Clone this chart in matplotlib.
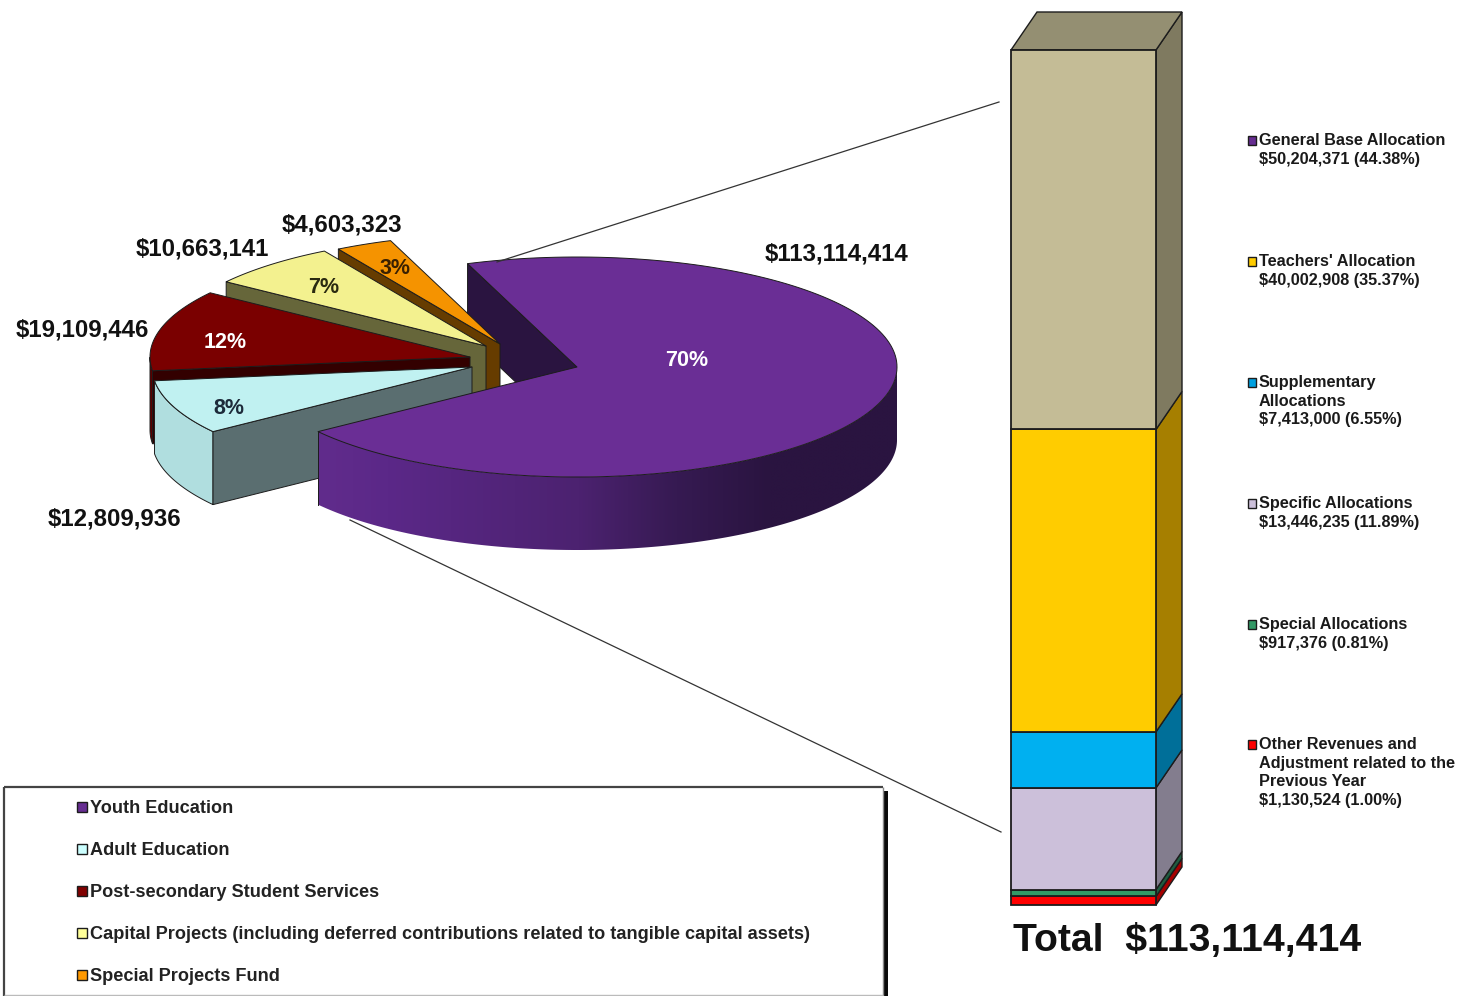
import numpy as np
import matplotlib
matplotlib.use("Agg")
import matplotlib.pyplot as plt
from matplotlib.patches import Polygon, Rectangle
from matplotlib.colors import to_rgb

plt.rcParams['font.family'] = ['Liberation Sans', 'DejaVu Sans']

# ---------- data ----------
pie_names = ["Youth Education", "Adult Education", "Post-secondary Student Services",
             "Capital Projects (including deferred contributions related to tangible capital assets)",
             "Special Projects Fund"]
pie_values = [113114414, 12809936, 19109446, 10663141, 4603323]
pie_value_labels = ["$113,114,414", "$12,809,936", "$19,109,446", "$10,663,141", "$4,603,323"]
pie_pct_labels = ["70%", "8%", "12%", "7%", "3%"]

bar_values = [1130524, 917376, 13446235, 7413000, 40002908, 50204371]  # bottom to top
bar_legend = [
    (["General Base Allocation", "$50,204,371 (44.38%)"]),
    (["Teachers' Allocation", "$40,002,908 (35.37%)"]),
    (["Supplementary", "Allocations", "$7,413,000 (6.55%)"]),
    (["Specific Allocations", "$13,446,235 (11.89%)"]),
    (["Special Allocations", "$917,376 (0.81%)"]),
    (["Other Revenues and", "Adjustment related to the", "Previous Year", "$1,130,524 (1.00%)"]),
]
total_label = "Total  $113,114,414"

# ---------- styles ----------
W, H = 1457, 996
FONT = 'Liberation Sans'
EDGE = '#1c1c1c'
pie_top = ['#6A2E95', '#C0F1F1', '#7A0000', '#F3F18F', '#F59300']
pie_face = ['#2A1440', '#5A6E70', '#330000', '#66663A', '#663C00']
pie_rim = ['#662D91', '#B0DEDF', '#5A0000', '#8A8A50', '#8A5000']
pie_legend = ['#662D91', '#CCFFFF', '#800000', '#FFFF99', '#FF9900']
apex = [(577, 367), (472, 367), (470, 357), (486, 346), (500, 344)]
RX, RY, DEPTH = 320, 110, 73
START = 110.0
pie_value_pos = [(837, 254), (114, 519), (82, 330), (202, 249), (342, 225)]
pie_pct_pos = [(687, 360), (229, 408), (225, 342), (324, 287), (395, 268)]
pct_colors = ['white', '#1d2b3a', 'white', '#2a2a10', '#3a2000']

bar_front = ['#FF0000', '#339966', '#CCC0DA', '#00B0F0', '#FFCC00', '#C4BC96']
bar_side = ['#A60000', '#1F5C40', '#837D8E', '#006F99', '#A67F00', '#7F7A60']
bar_top = '#948F72'
bar_legend_col = ['#662D91', '#FFCC00', '#00A0E0', '#CCC0DA', '#339966', '#FF0000']
bar_legend_y = [140, 261, 382, 503, 624, 744]
line_steps = [0, 19, 37, 56]

fig = plt.figure(figsize=(W / 100, H / 100), dpi=100, facecolor='white')
ax = fig.add_axes([0, 0, 1, 1])
ax.axis('off')


def ell(a, c, dz=0):
    t = np.radians(a)
    return np.column_stack([c[0] + RX * np.cos(t), c[1] - RY * np.sin(t) + dz])


# slice angles, going clockwise from START
total = sum(pie_values)
sweeps = [v / total * 360 for v in pie_values]
angles = []
a0 = START
for s in sweeps:
    angles.append((a0 - s, a0))
    a0 -= s


def top(i, z):
    lo, hi = angles[i]
    return Polygon(np.vstack([[apex[i]], ell(np.linspace(lo, hi, 160), apex[i])]), closed=True,
                   fc=pie_top[i], ec=EDGE, lw=0.7, zorder=z, joinstyle='round')


def add_rim(i, z):
    lo, hi = angles[i]
    lo_m, hi_m = lo % 360, (lo % 360) + (hi - lo)
    t = np.linspace(lo_m, hi_m, 200)
    t = t[(np.sin(np.radians(t)) < 0)]
    if len(t) < 2:
        return
    up, dn = ell(t, apex[i]), ell(t, apex[i], DEPTH)
    ax.add_patch(Polygon(np.vstack([up, dn[::-1]]), closed=True, fc=pie_rim[i], ec=EDGE, lw=0.7, zorder=z))


# back face of the main slice
c = np.array(apex[0], float)
p = ell(START, apex[0])[0]
ax.add_patch(Polygon([c, p, p + [0, DEPTH], c + [0, DEPTH]], closed=True,
                     fc=pie_face[0], ec=EDGE, lw=0.7, zorder=2))

# exploded slices, back to front
for z, i in zip([3, 4, 5, 6], [4, 3, 2, 1]):
    lo, hi = angles[i]
    q = np.array(apex[i], float)
    r = ell(hi, apex[i])[0]
    add_rim(i, z)
    ax.add_patch(Polygon([q, r, r + [0, DEPTH], q + [0, DEPTH]], closed=True,
                         fc=pie_face[i], ec=EDGE, lw=0.7, zorder=z))
    ax.add_patch(top(i, z + 0.5))

# main slice rim with horizontal shading
t = np.linspace(angles[0][0] % 360, 360, 300)
up, dn = ell(t, apex[0]), ell(t, apex[0], DEPTH)
xmin, xmax = up[:, 0].min(), up[:, 0].max()
stops = np.array([0, 0.12, 0.45, 0.62, 0.78, 1.0])
rgbs = np.array([to_rgb(x) for x in ['#612C8C', '#5B2888', '#4C2270', '#361A52', '#2A1440', '#2A1440']])
xs = np.linspace(0, 1, 512)
grad = np.stack([np.interp(xs, stops, rgbs[:, j]) for j in range(3)], axis=1)[None, :, :]
im = ax.imshow(grad, extent=(xmin, xmax, dn[:, 1].max() + 2, up[:, 1].min() - 2), aspect='auto',
               zorder=7, interpolation='bilinear')
im.set_clip_path(Polygon(np.vstack([up, dn[::-1]]), closed=True, transform=ax.transData))
ax.set_xlim(0, W)
ax.set_ylim(H, 0)
ax.plot([up[0, 0], dn[0, 0]], [up[0, 1], dn[0, 1]], color=EDGE, lw=0.7, zorder=7.2)
ax.add_patch(top(0, 7.5))

# pie labels
for s, (x, y) in zip(pie_value_labels, pie_value_pos):
    ax.text(x, y, s, ha='center', va='center', fontsize=17.3, fontweight='bold', family=FONT,
            color='#111111', zorder=10)
for s, (x, y), col in zip(pie_pct_labels, pie_pct_pos, pct_colors):
    ax.text(x, y, s, ha='center', va='center', fontsize=15.5, fontweight='bold', family=FONT,
            color=col, zorder=10)

# connectors
ax.plot([999, 497], [102, 262], color='#333333', lw=0.9, zorder=9)
ax.plot([350, 1001], [520, 832], color='#333333', lw=0.9, zorder=1)

# stacked bar in its own axes
BX0, BX1, BY0, BY1 = 1011, 1156, 50, 905
axb = fig.add_axes([BX0 / W, 1 - BY1 / H, (BX1 - BX0) / W, (BY1 - BY0) / H])
bar_total = sum(bar_values)
axb.set_xlim(0, 1)
axb.set_ylim(0, bar_total)
axb.axis('off')
dx = 26 / (BX1 - BX0)
dy = 38 / (BY1 - BY0) * bar_total
bottom = 0
for v, f, sd in zip(bar_values, bar_front, bar_side):
    axb.bar(0.5, v, width=1, bottom=bottom, color=f, edgecolor=EDGE, lw=1.3, clip_on=False, zorder=3)
    axb.add_patch(Polygon([(1, bottom), (1 + dx, bottom + dy), (1 + dx, bottom + v + dy), (1, bottom + v)],
                          closed=True, fc=sd, ec=EDGE, lw=1.0, clip_on=False, zorder=2))
    bottom += v
axb.add_patch(Polygon([(0, bar_total), (dx, bar_total + dy), (1 + dx, bar_total + dy), (1, bar_total)],
                      closed=True, fc=bar_top, ec=EDGE, lw=1.0, clip_on=False, zorder=2))

ax.text(1013, 941, total_label, ha='left', va='center', fontsize=28.2, fontweight='bold', family=FONT,
        color='#111111')

# right legend
for lines, col, y0 in zip(bar_legend, bar_legend_col, bar_legend_y):
    ax.add_patch(Rectangle((1247.5, y0 - 4), 8.5, 8.5, fc=col, ec=EDGE, lw=1.0))
    for ln, st in zip(lines, line_steps):
        ax.text(1259, y0 + st + 0.5, ln, ha='left', va='center', fontsize=11.7, fontweight='bold',
                family=FONT, color='#1a1a1a')

# bottom legend box
ax.add_patch(Rectangle((883, 791), 5, 210, fc='#0a0a0a', ec='none', zorder=1))
ax.add_patch(Rectangle((4, 787), 879, 220, fc='white', ec='none', zorder=1.4))
ax.plot([4, 883], [787, 787], color='#444444', lw=1.6, zorder=1.5, solid_capstyle='butt')
ax.plot([4, 4], [787, 996], color='#444444', lw=1.6, zorder=1.5, solid_capstyle='butt')
ax.plot([883, 883], [787, 996], color='#888888', lw=1.0, zorder=1.5, solid_capstyle='butt')
ax.plot([4, 883], [995, 995], color='#BBBBBB', lw=1.0, zorder=1.5, solid_capstyle='butt')
for i, (name, col) in enumerate(zip(pie_names, pie_legend)):
    y = 807 + 42 * i
    ax.add_patch(Rectangle((76.5, y - 5), 10, 10, fc=col, ec=EDGE, lw=1.0, zorder=2))
    ax.text(90, y + 1.5, name, ha='left', va='center', fontsize=13.05, fontweight='bold', family=FONT,
            color='#222222', zorder=2)

fig.savefig('out.png', dpi=100, facecolor='white')
